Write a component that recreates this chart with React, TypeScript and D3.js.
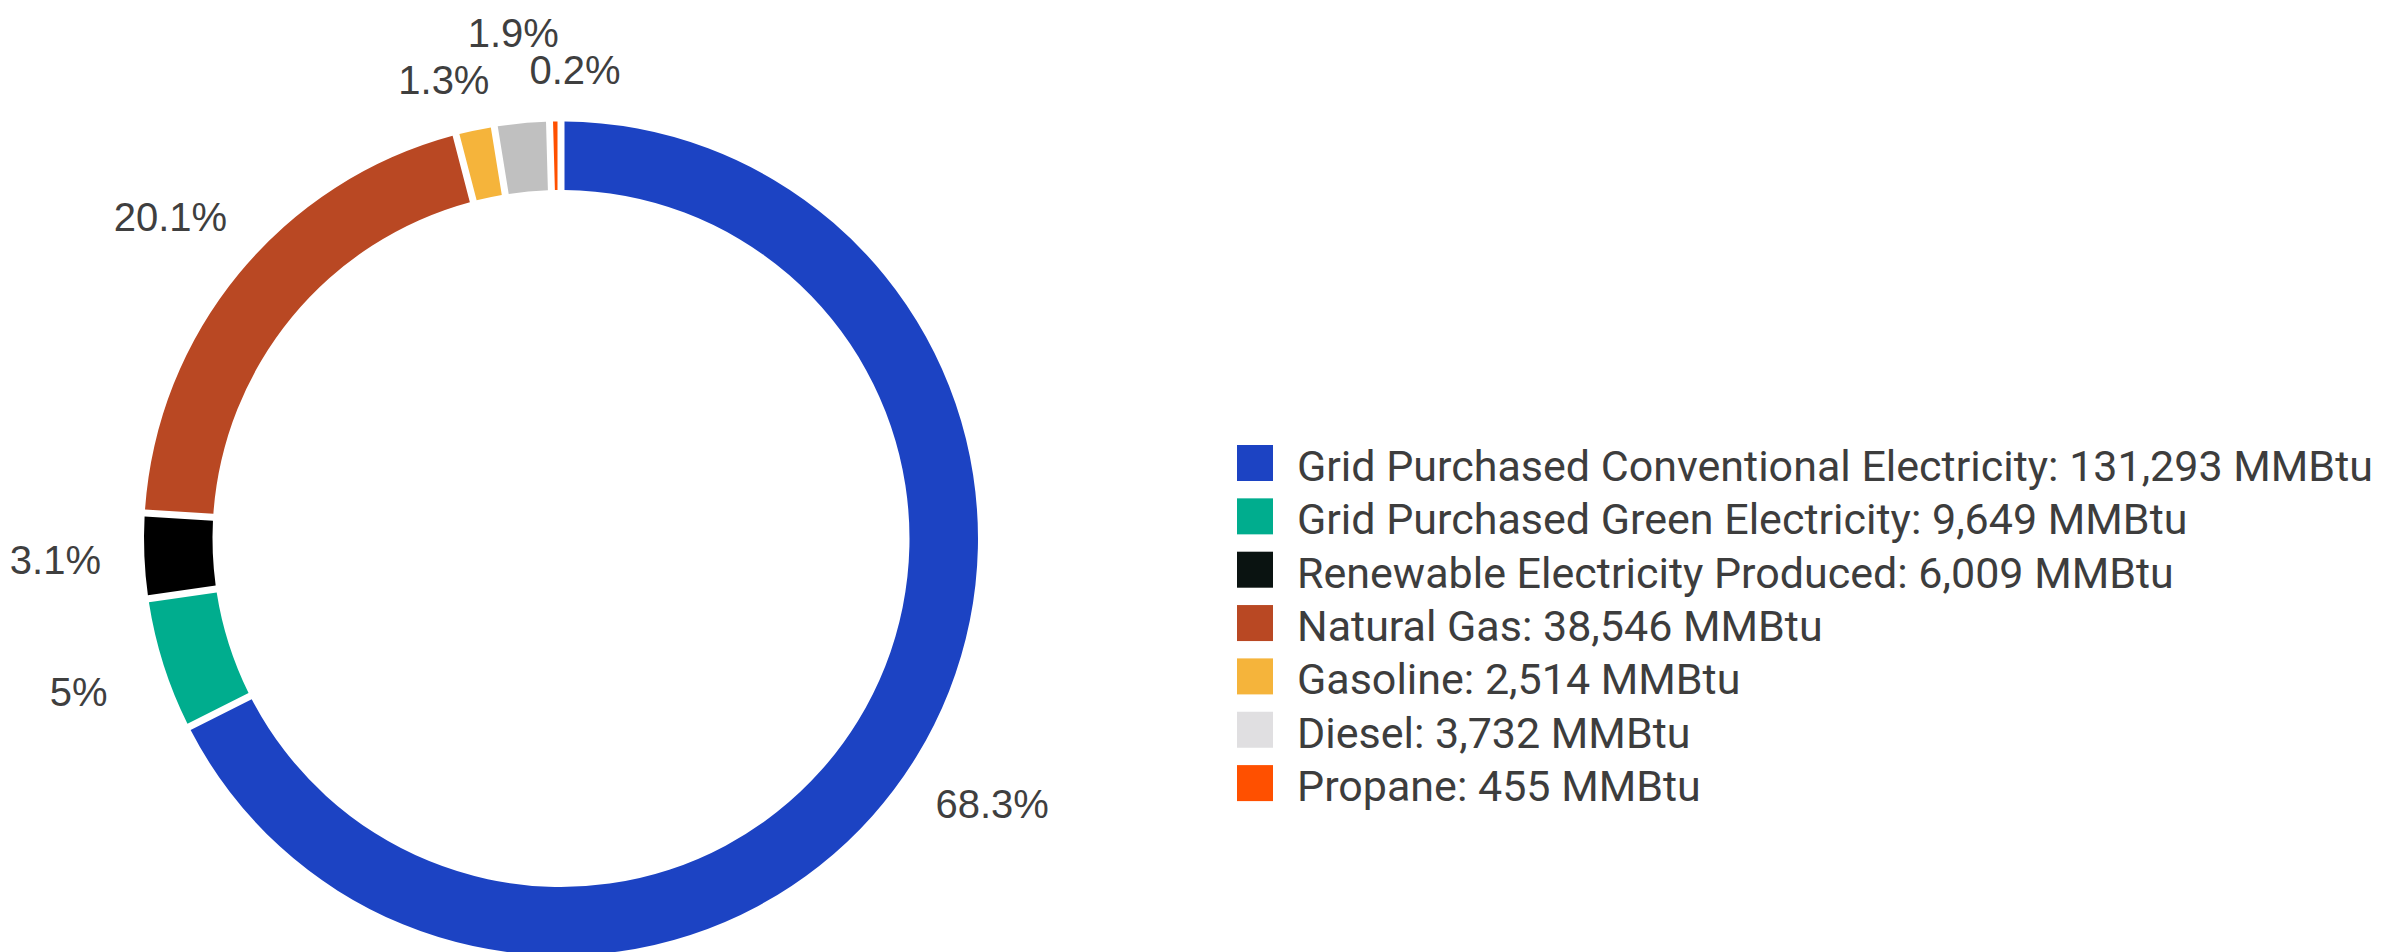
import React from "react";
import * as d3 from "d3";

const categories = [
  "Grid Purchased Conventional Electricity",
  "Grid Purchased Green Electricity",
  "Renewable Electricity Produced",
  "Natural Gas",
  "Gasoline",
  "Diesel",
  "Propane",
];
const values = [131293, 9649, 6009, 38546, 2514, 3732, 455];
const unit = "MMBtu";
const sliceColors = ["#1c43c3", "#00ad8e", "#000000", "#b94823", "#f5b43b", "#c0c0c0", "#ff5000"];
const legendColors = ["#1c43c3", "#00ad8e", "#0a1311", "#b94823", "#f5b43b", "#e0dfe1", "#ff5000"];

const W = 2387;
const H = 952;
const cx = 561;
const cy = 538.5;
const outerR = 417;
const innerR = 348.5;
const gapPx = 7;
const labelFont = 40;
const legendFont = 43;

function pctText(v: number, total: number) {
  const p = +((v / total) * 100).toFixed(1);
  return `${p}%`;
}

function textWidth(s: string, fs: number) {
  let w = 0;
  for (const ch of s) {
    if (ch === ".") w += 0.278;
    else if (ch === "%") w += 0.889;
    else w += 0.556;
  }
  return w * fs;
}

export default function App() {
  const total = d3.sum(values);
  const padRadius = Math.sqrt(innerR * innerR + outerR * outerR);
  const padAngle = gapPx / padRadius;
  const pie = d3
    .pie<number>()
    .sort(null)
    .value((d) => d)
    .padAngle(padAngle);
  const arcs = pie(values);
  const arcGen = d3
    .arc<d3.PieArcDatum<number>>()
    .innerRadius(innerR)
    .outerRadius(outerR)
    .padRadius(padRadius);

  // label layout
  const baseR = outerR + 89;
  const outerRowR = outerR + 91;
  const innerRowR = outerR + 52;
  const labels = arcs.map((a, i) => {
    const ang = (a.startAngle + a.endAngle) / 2;
    const text = pctText(values[i], total);
    const w = textWidth(text, labelFont);
    return {
      ang,
      text,
      w,
      r: baseR,
      x: cx + baseR * Math.sin(ang),
      y: cy - baseR * Math.cos(ang),
    };
  });
  const hgt = labelFont * 0.9;
  const overlaps = (a: any, b: any) =>
    Math.abs(a.x - b.x) < (a.w + b.w) / 2 && Math.abs(a.y - b.y) < hgt;
  const clusters: number[][] = [];
  let cur: number[] = [0];
  for (let i = 1; i < labels.length; i++) {
    if (overlaps(labels[i], labels[i - 1])) cur.push(i);
    else {
      clusters.push(cur);
      cur = [i];
    }
  }
  clusters.push(cur);
  clusters.forEach((c) => {
    if (c.length < 2) return;
    const innerIdx: number[] = [];
    c.forEach((li, j) => {
      const L = labels[li];
      const r = j % 2 === 1 ? outerRowR : innerRowR;
      L.r = r;
      L.x = cx + r * Math.sin(L.ang);
      L.y = cy - r * Math.cos(L.ang);
      if (j % 2 === 0) innerIdx.push(li);
    });
    const extraGap = 40;
    for (let k = 1; k < innerIdx.length; k++) {
      const A = labels[innerIdx[k - 1]];
      const B = labels[innerIdx[k]];
      const need = (A.w + B.w) / 2 + extraGap;
      const d = B.x - A.x;
      if (d < need) {
        const shift = (need - d) / 2;
        A.x -= shift;
        B.x += shift;
      }
    }
  });

  const legendX = 1237;
  const legendY0 = 463;
  const legendStep = 53.35;
  const sq = 36;
  const fmt = d3.format(",");

  return (
    <svg
      width={W}
      height={H}
      style={{ position: "absolute", left: 0, top: 0, background: "#ffffff" }}
    >
      <g transform={`translate(${cx},${cy})`}>
        {arcs.map((a, i) => (
          <path key={i} d={arcGen(a) || ""} fill={sliceColors[i]} />
        ))}
      </g>
      <g fontFamily="'Liberation Sans', Arial, sans-serif" fontSize={labelFont} fill="#3f3f3f">
        {labels.map((L, i) => (
          <text key={i} x={L.x} y={L.y} dy="0.36em" textAnchor="middle">
            {L.text}
          </text>
        ))}
      </g>
      <g fontFamily="Roboto, sans-serif" fontSize={legendFont} fill="#3d3d3d">
        {categories.map((c, i) => {
          const y = legendY0 + i * legendStep;
          return (
            <g key={c}>
              <rect x={legendX} y={y - sq / 2} width={sq} height={sq} fill={legendColors[i]} />
              <text x={legendX + 60} y={y + 18}>
                {`${c}: ${fmt(values[i])} ${unit}`}
              </text>
            </g>
          );
        })}
      </g>
    </svg>
  );
}
